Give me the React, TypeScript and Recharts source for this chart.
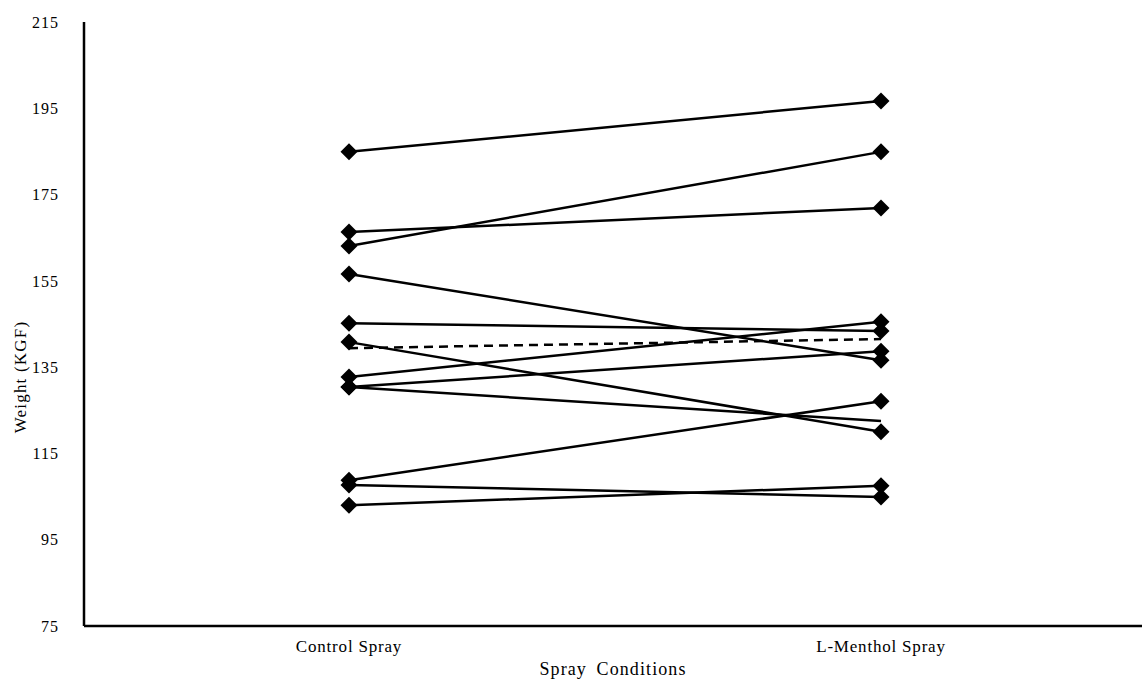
import React from 'react';
import { LineChart, Line, XAxis, YAxis } from 'recharts';

const conditions = ['Control Spray', 'L-Menthol Spray'];
const controlValues = [184.9, 166.3, 163.1, 156.6, 145.2, 140.8, 132.7, 130.4, 130.4, 108.8, 107.7, 103.0];
const mentholValues = [196.7, 171.9, 184.9, 136.6, 143.4, 120.0, 145.5, 138.7, 122.5, 127.1, 104.9, 107.5];
const meanValues = [139.4, 141.5];
// participant whose L-Menthol point has no marker in the original
const noMarkerRight = [8];
const yTicks = [75, 95, 115, 135, 155, 175, 195, 215];

const data = conditions.map((name, i) => {
  const row: Record<string, number | string> = { name, mean: meanValues[i] };
  controlValues.forEach((v, p) => {
    row[`p${p}`] = i === 0 ? v : mentholValues[p];
  });
  return row;
});

const font = '"Liberation Serif", "Times New Roman", serif';

const makeDiamond = (p: number) => (props: any) => {
  const { cx, cy, index } = props;
  if (index === 1 && noMarkerRight.includes(p)) return <g key={`d-${p}-${index}`} />;
  const r = 8.5;
  return (
    <polygon
      key={`d-${p}-${index}`}
      points={`${cx},${cy - r} ${cx + r},${cy} ${cx},${cy + r} ${cx - r},${cy}`}
      fill="#000"
    />
  );
};

const XTitle = () => (
  <text x={613} y={669} textAnchor="middle" dominantBaseline="central" fill="#000"
    style={{ fontFamily: font, fontSize: 18, letterSpacing: 1.1, wordSpacing: 4 }}>
    Spray Conditions
  </text>
);

const YTitle = () => (
  <text x={20} y={377} textAnchor="middle" dominantBaseline="central" fill="#000"
    transform="rotate(-90 20 377)"
    style={{ fontFamily: font, fontSize: 17, letterSpacing: 1.2 }}>
    Weight (KGF)
  </text>
);

const App: React.FC = () => {
  return (
    <div style={{ position: 'absolute', left: 0, top: 0, background: '#fff' }}>
      <LineChart width={1144} height={682} data={data} margin={{ top: 22, right: 2, bottom: 0, left: 0 }}>
        <XAxis
          dataKey="name"
          height={56}
          padding={{ left: 265, right: 261 }}
          axisLine={{ stroke: '#000', strokeWidth: 2.5 }}
          tickLine={false}
          tick={{ fill: '#000', fontFamily: font, fontSize: 17, letterSpacing: 0.8 }}
          tickMargin={8}
          label={<XTitle />}
        />
        <YAxis
          width={84}
          domain={[75, 215]}
          ticks={yTicks}
          interval={0}
          axisLine={{ stroke: '#000', strokeWidth: 2.5 }}
          tickLine={false}
          tick={{ fill: '#000', fontFamily: font, fontSize: 16, letterSpacing: 1 }}
          tickMargin={19}
          label={<YTitle />}
        />
        {controlValues.map((_, p) => (
          <Line
            key={p}
            type="linear"
            dataKey={`p${p}`}
            stroke="#000"
            strokeWidth={2.5}
            dot={makeDiamond(p)}
            activeDot={false}
            isAnimationActive={false}
          />
        ))}
        <Line
          type="linear"
          dataKey="mean"
          stroke="#000"
          strokeWidth={2.5}
          strokeDasharray="9 6"
          dot={false}
          activeDot={false}
          isAnimationActive={false}
        />
      </LineChart>
    </div>
  );
};

export default App;
